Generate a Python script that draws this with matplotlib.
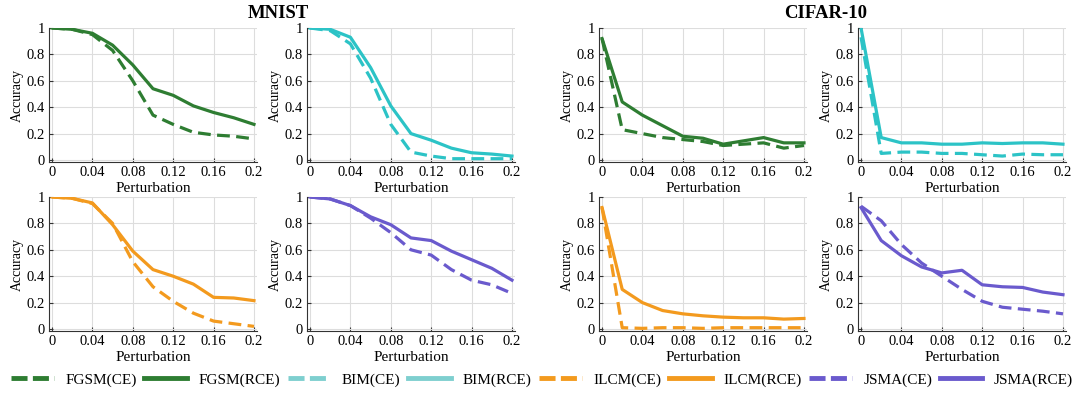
import matplotlib
matplotlib.use("Agg")
import matplotlib.pyplot as plt
from matplotlib.lines import Line2D

plt.rcParams['font.family'] = ['Liberation Serif', 'DejaVu Serif']

# perturbation levels shared by all panels
eps = [0, 0.02, 0.04, 0.06, 0.08, 0.10, 0.12, 0.14, 0.16, 0.18, 0.20]

# ---------------- MNIST ----------------
mnist_fgsm_ce  = [1.00, 0.99, 0.95, 0.83, 0.60, 0.34, 0.27, 0.21, 0.19, 0.18, 0.16]
mnist_fgsm_rce = [1.00, 0.99, 0.96, 0.87, 0.72, 0.54, 0.49, 0.41, 0.36, 0.32, 0.27]
mnist_bim_ce   = [1.00, 0.98, 0.88, 0.62, 0.27, 0.06, 0.03, 0.01, 0.01, 0.01, 0.01]
mnist_bim_rce  = [1.00, 0.99, 0.93, 0.70, 0.41, 0.20, 0.15, 0.09, 0.055, 0.045, 0.03]
mnist_ilcm_ce  = [1.00, 0.99, 0.95, 0.80, 0.51, 0.32, 0.21, 0.12, 0.06, 0.04, 0.02]
mnist_ilcm_rce = [1.00, 0.99, 0.955, 0.79, 0.59, 0.45, 0.40, 0.34, 0.24, 0.235, 0.215]
mnist_jsma_ce  = [1.00, 0.985, 0.935, 0.84, 0.73, 0.60, 0.56, 0.45, 0.37, 0.335, 0.27]
mnist_jsma_rce = [1.00, 0.985, 0.935, 0.85, 0.79, 0.69, 0.67, 0.59, 0.525, 0.46, 0.37]

# ---------------- CIFAR-10 ----------------
cifar_fgsm_ce  = [0.92, 0.23, 0.20, 0.17, 0.155, 0.14, 0.11, 0.12, 0.13, 0.09, 0.11]
cifar_fgsm_rce = [0.92, 0.44, 0.34, 0.26, 0.18, 0.165, 0.12, 0.145, 0.17, 0.13, 0.13]
cifar_bim_ce   = [0.93, 0.05, 0.06, 0.06, 0.05, 0.05, 0.04, 0.03, 0.045, 0.04, 0.04]
cifar_bim_rce  = [1.00, 0.17, 0.13, 0.13, 0.12, 0.12, 0.13, 0.125, 0.13, 0.13, 0.12]
cifar_ilcm_ce  = [0.92, 0.01, 0.005, 0.01, 0.01, 0.005, 0.01, 0.01, 0.01, 0.01, 0.01]
cifar_ilcm_rce = [0.92, 0.30, 0.20, 0.14, 0.115, 0.10, 0.09, 0.085, 0.085, 0.075, 0.08]
cifar_jsma_ce  = [0.93, 0.82, 0.64, 0.50, 0.40, 0.30, 0.21, 0.165, 0.15, 0.135, 0.115]
cifar_jsma_rce = [0.92, 0.67, 0.555, 0.47, 0.425, 0.445, 0.335, 0.32, 0.315, 0.28, 0.26]

attacks = ['FGSM', 'BIM', 'ILCM', 'JSMA']
colors = {'FGSM': '#2E7D32', 'BIM': '#2CC3C6', 'ILCM': '#F39A1E', 'JSMA': '#6A5ACD'}
legend_colors = {'FGSM': '#2E7D32', 'BIM': '#7ECFCF', 'ILCM': '#F39A1E', 'JSMA': '#6A5ACD'}

panels = [
    # (row, col, attack, ce, rce)
    (0, 0, 'FGSM', mnist_fgsm_ce, mnist_fgsm_rce),
    (0, 1, 'BIM', mnist_bim_ce, mnist_bim_rce),
    (1, 0, 'ILCM', mnist_ilcm_ce, mnist_ilcm_rce),
    (1, 1, 'JSMA', mnist_jsma_ce, mnist_jsma_rce),
    (0, 2, 'FGSM', cifar_fgsm_ce, cifar_fgsm_rce),
    (0, 3, 'BIM', cifar_bim_ce, cifar_bim_rce),
    (1, 2, 'ILCM', cifar_ilcm_ce, cifar_ilcm_rce),
    (1, 3, 'JSMA', cifar_jsma_ce, cifar_jsma_rce),
]

W, H = 1084, 393
fig = plt.figure(figsize=(W / 100, H / 100), dpi=100)

col_left = [49, 307, 599, 858]
row_top = [28, 197]
ax_w, ax_h = 208, 134

dash = (4, 2)
lw = 2.3

for row, col, atk, ce, rce in panels:
    l = col_left[col] / W
    b = 1 - (row_top[row] + ax_h) / H
    ax = fig.add_axes([l, b, ax_w / W, ax_h / H])
    c = colors[atk]
    ax.plot(eps, ce, color=c, lw=lw, ls=(0, dash))
    ax.plot(eps, rce, color=c, lw=lw, ls='-')
    ax.set_xlim(-0.003, 0.203)
    ax.set_ylim(-0.015, 1.0)
    ax.set_xticks([0, 0.04, 0.08, 0.12, 0.16, 0.2])
    ax.set_xticklabels(['0', '0.04', '0.08', '0.12', '0.16', '0.2'])
    ax.set_yticks([0, 0.2, 0.4, 0.6, 0.8, 1])
    ax.set_yticklabels(['0', '0.2', '0.4', '0.6', '0.8', '1'])
    ax.tick_params(direction='in', length=3, labelsize=10.5, pad=3, color='#333333')
    ax.grid(True, color='#dddddd', lw=0.8)
    ax.set_axisbelow(True)
    for s in ['top', 'right']:
        ax.spines[s].set_visible(False)
    for s in ['left', 'bottom']:
        ax.spines[s].set_color('#333333')
        ax.spines[s].set_linewidth(0.8)
    ax.set_ylabel('Accuracy', fontsize=10, labelpad=2)
    ax.set_xlabel('Perturbation', fontsize=11, labelpad=2)

fig.text(278 / W, 1 - 13 / H, 'MNIST', ha='center', va='center',
         fontsize=13.5, fontweight='bold')
fig.text(826 / W, 1 - 13 / H, 'CIFAR-10', ha='center', va='center',
         fontsize=13.5, fontweight='bold')

handles, labels = [], []
for atk in attacks:
    handles.append(Line2D([], [], color=legend_colors[atk], lw=3.5, ls=(0, (3.3, 1.1))))
    labels.append(f'{atk}(CE)')
    handles.append(Line2D([], [], color=legend_colors[atk], lw=3.5, ls='-'))
    labels.append(f'{atk}(RCE)')

fig.legend(handles, labels, loc='center', bbox_to_anchor=(0.5, 1 - 380 / H),
           ncol=8, frameon=False, fontsize=11, handlelength=2.8,
           handletextpad=0.75, columnspacing=0.5, borderaxespad=0, borderpad=0)

fig.savefig('out.png', dpi=100)
